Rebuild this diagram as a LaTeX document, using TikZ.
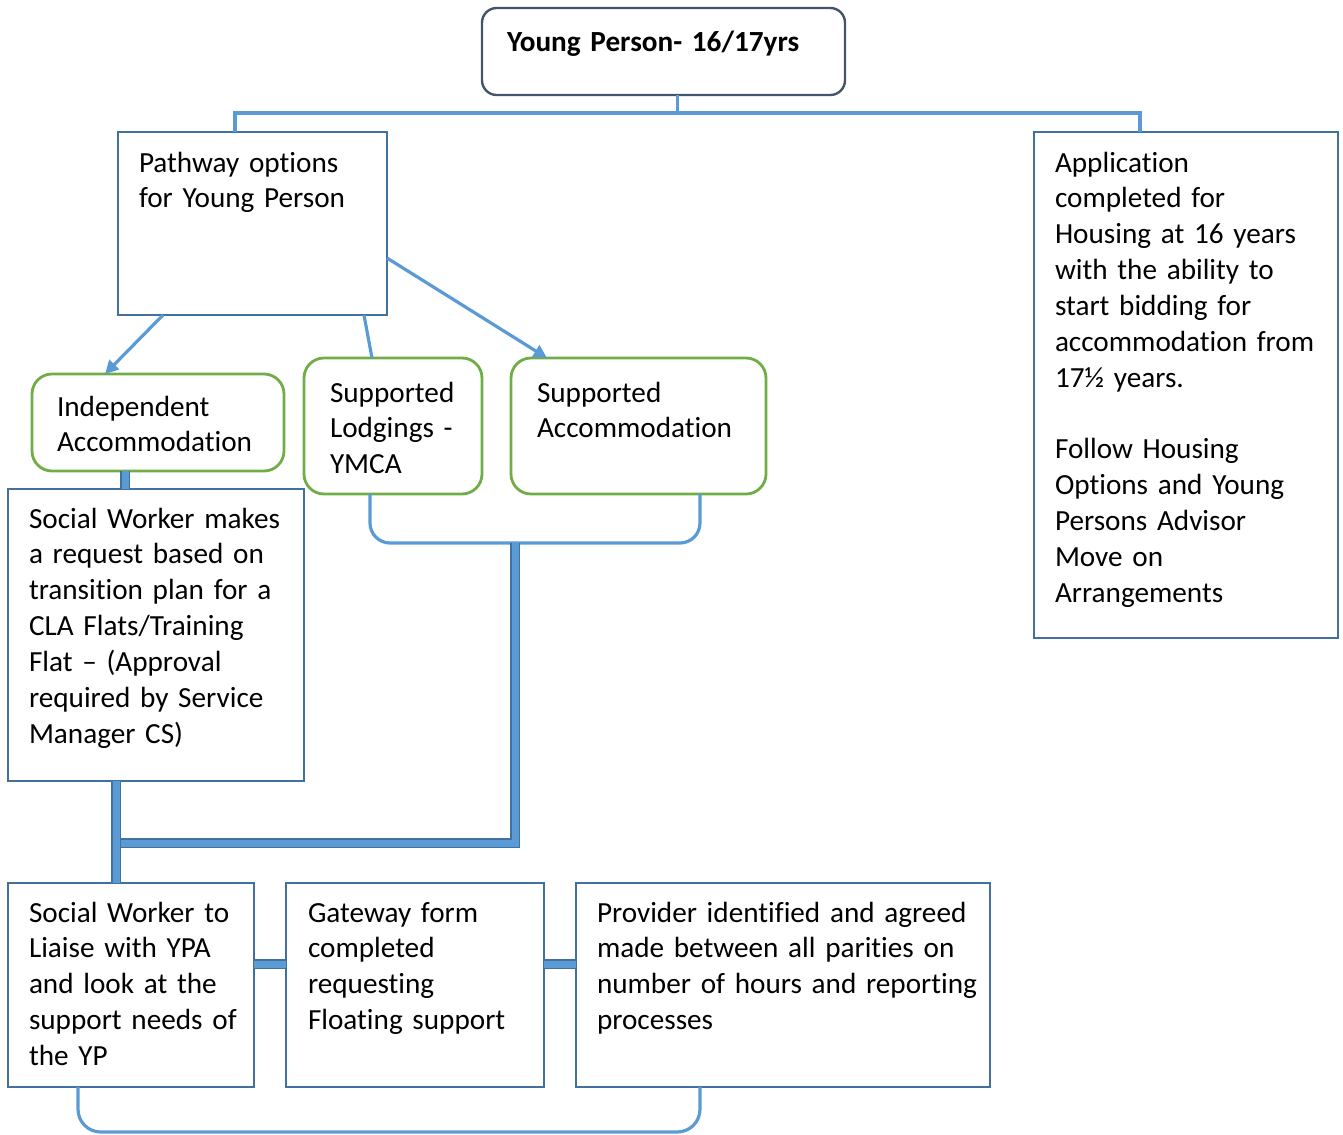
\documentclass[tikz,border=0pt]{standalone}
\usepackage{fontspec}
\setmainfont{Carlito}[Ligatures={NoCommon}]
\usetikzlibrary{calc,arrows.meta}
\definecolor{lineblue}{HTML}{5B9BD5}
\definecolor{boxblue}{HTML}{41719C}
\definecolor{boxgreen}{HTML}{70AD47}
\definecolor{topdark}{HTML}{44546A}
\def\PX{0.75pt}
\newcommand\mybox[6]{\node[#1, minimum width={(#4-#2)*\PX}, minimum height={(#5-#3)*\PX}, anchor=north west] (#6) at (#2,#3) {};}
\newcommand\diagfont{\fontsize{21.9}{26.9}\selectfont\spaceskip=0.19em\relax}
\begin{document}
\begin{tikzpicture}[x=0.75pt,y=-0.75pt,
  sqbox/.style={draw=boxblue, line width=1.8pt, rectangle, inner sep=0pt, outer sep=0pt},
  grbox/.style={draw=boxgreen, line width=2.1pt, rectangle, rounded corners=15pt, inner sep=0pt, outer sep=0pt},
  topbox/.style={draw=topdark, line width=1.8pt, rectangle, rounded corners=11pt, inner sep=0pt, outer sep=0pt},
  txt/.style={anchor=base west, inner sep=0pt, outer sep=0pt, align=left, font=\diagfont},
  conn/.style={draw=lineblue, line width=2.4pt},
  arr/.style={conn, -{Triangle[length=10pt,width=10pt]}},
  thickbar/.style={draw=boxblue, line width=1.1pt, double=lineblue, double distance=5.25pt},
]
\useasboundingbox (0,0) rectangle (1343,1135);

% boxes
\mybox{topbox}{482}{8}{845}{95}{yp}
\mybox{sqbox}{118}{132}{387}{315}{path}
\mybox{sqbox}{1034}{132}{1338}{638}{app}
\mybox{grbox}{32}{374}{284}{471}{indep}
\mybox{grbox}{304}{358}{482}{494}{lodg}
\mybox{grbox}{511}{358}{766}{494}{supacc}
\mybox{sqbox}{8}{489}{304}{781}{swm}
\mybox{sqbox}{8}{883}{254}{1087}{liaise}
\mybox{sqbox}{286}{883}{544}{1087}{gate}
\mybox{sqbox}{576}{883}{990}{1087}{prov}

% texts
\node[txt, text width=330*\PX, font=\bfseries\diagfont] (typ) at (507,51) {Young Person- 16/17yrs};
\node[txt, text width=245*\PX] (tpath) at (139,172) {Pathway options\\for Young Person};
\node[txt, text width=282*\PX] (tapp) at (1055,172) {Application\\completed for\\Housing at 16 years\\with the ability to\\start bidding for\\accommodation from\\17½ years.\\[26.9pt]Follow Housing\\Options and Young\\Persons Advisor\\Move on\\Arrangements};
\node[txt, text width=225*\PX] (tind) at (57,416) {Independent\\Accommodation};
\node[txt, text width=150*\PX] (tlod) at (330,402) {Supported\\Lodgings -\\YMCA};
\node[txt, text width=226*\PX] (tsa) at (537,402) {Supported\\Accommodation};
\node[txt, text width=273*\PX] (tswm) at (29,528) {Social Worker makes\\a request based on\\transition plan for a\\CLA Flats/Training\\Flat – (Approval\\required by Service\\Manager CS)};
\node[txt, text width=223*\PX] (tli) at (29,922) {Social Worker to\\Liaise with YPA\\and look at the\\support needs of\\the YP};
\node[txt, text width=234*\PX] (tgw) at (308,922) {Gateway form\\completed\\requesting\\Floating support};
\node[txt, text width=390*\PX] (tpr) at (597,922) {Provider identified and agreed\\made between all parities on\\number of hours and reporting\\processes};

% top connector
\coordinate (j0) at ($(yp.south)+(14,0)$);
\coordinate (j1) at ($(j0)+(0,18)$);
\draw[conn] (j0) -- (j1);
\draw[conn] ($(path.north west)+(117,0)$) |- (j1) -| ($(app.north west)+(106,0)$);

% pathway connectors
\draw[arr] ($(path.south west)+(45,0)$) -- ($(indep.north west)+(73,0)$);
\draw[conn] ($(path.south west)+(246,0)$) -- ($(lodg.north west)+(68,0)$);
\draw[arr] ($(path.north east)+(0,126)$) -- ($(supacc.north west)+(36,0)$);

% thick bars
\draw[thickbar] ($(indep.south west)+(93,0)$) -- ($(swm.north west)+(117,0)$);
\draw[conn, rounded corners=15pt] ($(lodg.south west)+(66,0)$) -- ($(lodg.south west)+(66,49)$) -- ($(supacc.south west)+(189,49)$) -- ($(supacc.south west)+(189,0)$);
\coordinate (bk) at ($(lodg.south west)+(211,49)$);
\draw[thickbar] (bk) |- ($(swm.south west)+(108,62)$);
\draw[thickbar] ($(swm.south west)+(108,0)$) -- ($(liaise.north west)+(108,0)$);
\draw[thickbar] ($(liaise.north east)+(0,81)$) -- ($(gate.north west)+(0,81)$);
\draw[thickbar] ($(gate.north east)+(0,81)$) -- ($(prov.north west)+(0,81)$);

% bottom bracket
\draw[conn, rounded corners=17pt] ($(liaise.south west)+(70,0)$) -- ($(liaise.south west)+(70,45)$) -- ($(prov.south west)+(124,45)$) -- ($(prov.south west)+(124,0)$);
\end{tikzpicture}
\end{document}
